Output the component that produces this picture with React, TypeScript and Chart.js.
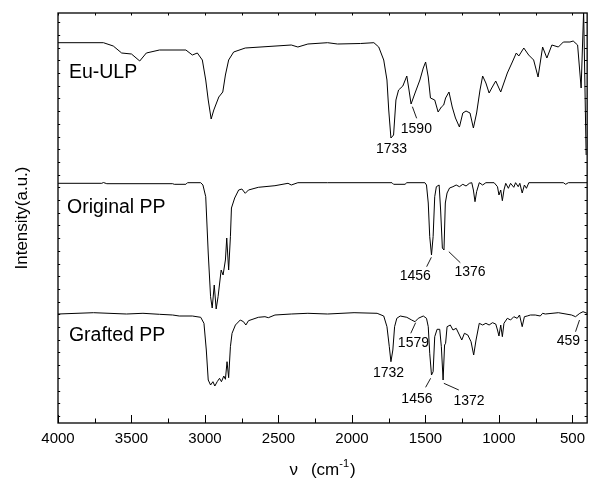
import React, { useEffect, useRef } from "react";
import { Chart, registerables } from "chart.js";

Chart.register(...registerables);

const FONT = '"Liberation Sans", Arial, Helvetica, sans-serif';

// Wavenumber (cm-1) tick labels
const xTickValues = [4000, 3500, 3000, 2500, 2000, 1500, 1000, 500];
const xTickLabels = ["4000", "3500", "3000", "2500", "2000", "1500", "1000", "500"];

const seriesNames = ["Eu-ULP", "Original PP", "Grafted PP"];

// [wavenumber, intensity (a.u.)]
const euUlp: [number, number][] = [
  [4000, 380.3], [3691, 380.3], [3624, 377], [3567, 370], [3500, 369], [3444, 362], [3399, 370],
  [3310, 373], [3130, 373], [3086, 368], [3052, 370], [3018, 363], [2995, 343], [2978, 323],
  [2958, 304], [2940, 313], [2906, 326], [2879, 331], [2861, 348], [2839, 363], [2805, 371],
  [2726, 375], [2413, 378], [2368, 376], [2300, 379], [2166, 380.3], [2098, 379], [1942, 379.5],
  [1851, 380.3], [1818, 376], [1784, 363], [1762, 343], [1750, 313], [1735, 285], [1717, 288],
  [1701, 323], [1683, 333], [1654, 337], [1627, 347], [1612, 333], [1598, 319], [1571, 330],
  [1538, 343], [1515, 355], [1499, 361], [1481, 346], [1466, 325], [1437, 323], [1414, 311],
  [1392, 316], [1376, 318], [1363, 325], [1340, 331], [1318, 316], [1296, 305], [1269, 296],
  [1246, 310], [1224, 312], [1197, 310], [1174, 295], [1152, 310], [1129, 333], [1111, 347],
  [1089, 340], [1067, 330], [1049, 335], [1022, 342], [988, 331], [943, 350], [909, 361],
  [882, 370], [865, 367], [831, 375], [798, 368], [764, 363], [734, 346], [703, 376], [674, 365],
  [640, 378], [596, 376], [562, 381], [517, 381], [495, 382], [465, 378], [441, 335], [424, 412],
  [407, 268],
];

const originalPP: [number, number][] = [
  [4000, 239.7], [3702, 239.7], [3691, 240.5], [3668, 239.3], [3220, 239.3], [3209, 238.7],
  [3130, 238.7], [3119, 240.3], [3029, 240.3], [3014, 238], [2995, 226.3], [2978, 170],
  [2962, 126.3], [2951, 115], [2937, 138], [2924, 114], [2911, 126.3], [2890, 153], [2877, 148],
  [2861, 163], [2852, 185], [2839, 153], [2827, 186.3], [2820, 215], [2798, 225], [2771, 233],
  [2749, 234], [2726, 229.7], [2704, 233], [2637, 235.7], [2524, 237.3], [2435, 239.7],
  [2413, 238], [2368, 240.3], [2166, 240.3], [1728, 240.3], [1717, 238.7], [1639, 238.7],
  [1627, 240.3], [1504, 240.3], [1493, 238], [1481, 220], [1471, 186.3], [1459, 168],
  [1448, 186.3], [1437, 226.3], [1426, 236.3], [1407, 238], [1397, 213], [1385, 175], [1374, 173],
  [1365, 220], [1353, 230], [1336, 235], [1313, 236.3], [1291, 238], [1269, 236.3], [1246, 238.7],
  [1224, 237], [1201, 239.7], [1185, 240.3], [1174, 233], [1163, 221.3], [1152, 231.3],
  [1134, 240.3], [1111, 238], [1089, 240.3], [1033, 240.3], [1010, 236.3], [1000, 228], [988, 233],
  [977, 222.3], [966, 233], [954, 239.7], [936, 234.7], [921, 239.7], [899, 235.7], [887, 240.3],
  [869, 236.3], [858, 239.7], [842, 230], [827, 238], [813, 234.7], [797, 240.3], [562, 240.3],
  [546, 238.7], [528, 240.3], [400, 240.3],
];

const graftedPP: [number, number][] = [
  [4000, 109], [3758, 110.3], [3534, 109], [3422, 109.7], [3310, 108.7], [3220, 108], [3175, 107],
  [3086, 107], [3029, 105.7], [3007, 99.7], [2991, 73], [2978, 43], [2962, 38], [2946, 41.3],
  [2933, 37], [2917, 41.3], [2901, 44.7], [2888, 41.3], [2872, 47], [2861, 43.7], [2850, 61.3],
  [2839, 45.3], [2827, 76.3], [2816, 89.7], [2793, 98], [2760, 103], [2738, 101.3], [2722, 98],
  [2704, 102.3], [2637, 105.7], [2592, 106.3], [2569, 105.3], [2524, 108], [2413, 109],
  [2300, 109.7], [2166, 109], [1986, 110.3], [1829, 109.7], [1784, 107], [1762, 96.3],
  [1746, 76.3], [1735, 61.3], [1722, 73], [1710, 96.3], [1695, 104.7], [1672, 107], [1627, 105.7],
  [1594, 103], [1571, 101.3], [1549, 104.7], [1515, 107], [1493, 104.7], [1481, 96.3],
  [1471, 69.7], [1459, 48], [1448, 51.3], [1437, 86.3], [1421, 93.7], [1403, 93.7], [1392, 76.3],
  [1380, 43], [1370, 78], [1363, 79.7], [1353, 96.3], [1331, 98], [1313, 93], [1291, 94.7],
  [1269, 88], [1253, 83], [1235, 89.7], [1212, 88], [1190, 81.3], [1172, 68], [1156, 83],
  [1134, 99.7], [1111, 98], [1089, 99.7], [1067, 98], [1044, 100.3], [1022, 99], [1010, 93],
  [1000, 87], [988, 98], [977, 86.3], [966, 99.7], [943, 104.7], [921, 103], [899, 106.3],
  [876, 104.7], [860, 108], [842, 96.3], [827, 106.3], [808, 107], [786, 108], [753, 108],
  [719, 107], [703, 109.7], [685, 109], [596, 110.3], [506, 108], [479, 106.3], [450, 109.7],
  [428, 111.3], [400, 109.7],
];

// Peak annotations
const peakLabels = ["1733", "1590", "1456", "1376", "1732", "1579", "1456", "1372", "459"];

// label anchor (wavenumber, intensity) — centre x, baseline y
const peakLabelPos: [number, number][] = [
  [1731, 270], [1562, 290.3], [1569, 143], [1197, 147], [1751, 46.3], [1582, 76.3],
  [1558, 19.7], [1204, 18], [528, 78],
];
const peakLeaders: ([number, number, number, number] | null)[] = [
  null, [1589, 316.3, 1560, 304.7], [1460, 165.7, 1492, 156.3], [1341, 171.3, 1263, 160.3],
  null, [1567, 100.3, 1600, 89.7], [1465, 44.7, 1499, 35.7], [1375, 39.7, 1273, 33],
  [452, 103, 479, 91.3],
];
const seriesLabelPos: [number, number][] = [[3926, 345.3], [3939, 210.3], [3926, 82]];

const decorPlugin = {
  id: "decor",
  afterDraw(chart: any) {
    const { ctx, chartArea } = chart;
    const xs = chart.scales.x;
    const ys = chart.scales.y;
    const { left, right, top, bottom } = chartArea;
    ctx.save();
    ctx.strokeStyle = "#000";
    ctx.fillStyle = "#000";

    // frame
    ctx.lineWidth = 1.3;
    ctx.strokeRect(left, top, right - left, bottom - top);

    // x ticks (major + minor), inward
    ctx.lineWidth = 1;
    const majors = xTickValues;
    const minors: number[] = [];
    for (let i = 0; i < majors.length - 1; i++) minors.push((majors[i] + majors[i + 1]) / 2);
    ctx.beginPath();
    majors.forEach((v) => {
      const px = Math.round(xs.getPixelForValue(v)) + 0.5;
      ctx.moveTo(px, bottom);
      ctx.lineTo(px, bottom - 8);
      ctx.moveTo(px, top);
      ctx.lineTo(px, top + 2.5);
    });
    minors.forEach((v) => {
      const px = Math.round(xs.getPixelForValue(v)) + 0.5;
      ctx.moveTo(px, bottom);
      ctx.lineTo(px, bottom - 4.5);
      ctx.moveTo(px, top);
      ctx.lineTo(px, top + 2.5);
    });
    // y ticks, inward, short
    for (let v = 7.1; v < 410; v += 12.7) {
      const py = Math.round(ys.getPixelForValue(v)) + 0.5;
      ctx.moveTo(left, py);
      ctx.lineTo(left + 2.2, py);
      ctx.moveTo(right, py);
      ctx.lineTo(right - 2.5, py);
    }
    ctx.stroke();

    // series labels
    ctx.font = `19.5px ${FONT}`;
    ctx.textAlign = "left";
    ctx.textBaseline = "alphabetic";
    seriesNames.forEach((name, i) => {
      const [nu, iy] = seriesLabelPos[i];
      ctx.fillText(name, xs.getPixelForValue(nu), ys.getPixelForValue(iy));
    });

    // peak labels and leader lines
    ctx.font = `14px ${FONT}`;
    ctx.textAlign = "center";
    peakLabels.forEach((t, i) => {
      const [nu, iy] = peakLabelPos[i];
      ctx.fillText(t, xs.getPixelForValue(nu), ys.getPixelForValue(iy));
      const l = peakLeaders[i];
      if (l) {
        ctx.beginPath();
        ctx.moveTo(xs.getPixelForValue(l[0]), ys.getPixelForValue(l[1]));
        ctx.lineTo(xs.getPixelForValue(l[2]), ys.getPixelForValue(l[3]));
        ctx.lineWidth = 0.9;
        ctx.stroke();
      }
    });

    // x axis title: ν (cm-1) with superscript
    const cx = (left + right) / 2;
    const base = 474.5;
    ctx.textAlign = "left";
    const big = `17px ${FONT}`;
    const small = `11px ${FONT}`;
    const p1 = "ν";
    const gap = 13;
    const p2 = "(cm";
    const sup = "-1";
    const p3 = ")";
    ctx.font = big;
    const w1 = ctx.measureText(p1).width;
    const w2 = ctx.measureText(p2).width;
    const w3 = ctx.measureText(p3).width;
    ctx.font = small;
    const ws = ctx.measureText(sup).width;
    const total = w1 + gap + w2 + ws + 1 + w3;
    let x0 = cx - total / 2;
    ctx.font = big;
    ctx.fillText(p1, x0, base);
    x0 += w1 + gap;
    ctx.fillText(p2, x0, base);
    x0 += w2;
    ctx.font = small;
    ctx.fillText(sup, x0, base - 7.5);
    x0 += ws + 1;
    ctx.font = big;
    ctx.fillText(p3, x0, base);

    // y axis title
    ctx.save();
    ctx.translate(27, (top + bottom) / 2);
    ctx.rotate(-Math.PI / 2);
    ctx.font = `17px ${FONT}`;
    ctx.textAlign = "center";
    ctx.textBaseline = "alphabetic";
    ctx.fillText("Intensity(a.u.)", 0, 0);
    ctx.restore();

    ctx.restore();
  },
};

export default function App() {
  const ref = useRef<HTMLCanvasElement | null>(null);
  useEffect(() => {
    if (!ref.current) return;
    const mk = (d: [number, number][]) => d.map(([x, y]) => ({ x, y }));
    const chart = new Chart(ref.current, {
      type: "line",
      data: {
        datasets: [euUlp, originalPP, graftedPP].map((d, i) => ({
          label: seriesNames[i],
          data: mk(d),
          borderColor: "#000",
          borderWidth: 1,
          pointRadius: 0,
          tension: 0,
          fill: false,
        })),
      },
      options: {
        animation: false,
        responsive: false,
        maintainAspectRatio: false,
        layout: { padding: { left: 58, right: 1, top: 13, bottom: 0 } },
        plugins: { legend: { display: false }, tooltip: { enabled: false } },
        scales: {
          x: {
            type: "linear",
            reverse: true,
            min: 400,
            max: 4000,
            grid: { display: false, drawTicks: false },
            border: { display: false },
            afterBuildTicks: (s: any) => {
              s.ticks = xTickValues.map((v) => ({ value: v }));
            },
            afterFit: (s: any) => {
              s.height = 58;
            },
            ticks: {
              autoSkip: false,
              maxRotation: 0,
              padding: 7,
              color: "#000",
              font: { family: FONT, size: 15 },
              callback: (v: any) => {
                const i = xTickValues.indexOf(Number(v));
                return i >= 0 ? xTickLabels[i] : "";
              },
            },
          },
          y: { type: "linear", display: false, min: 0, max: 410 },
        },
      },
      plugins: [decorPlugin],
    } as any);
    return () => chart.destroy();
  }, []);
  return (
    <div style={{ position: "absolute", left: 0, top: 0, width: 592, height: 481, background: "#fff" }}>
      <canvas ref={ref} width={592} height={481} style={{ display: "block" }} />
    </div>
  );
}
